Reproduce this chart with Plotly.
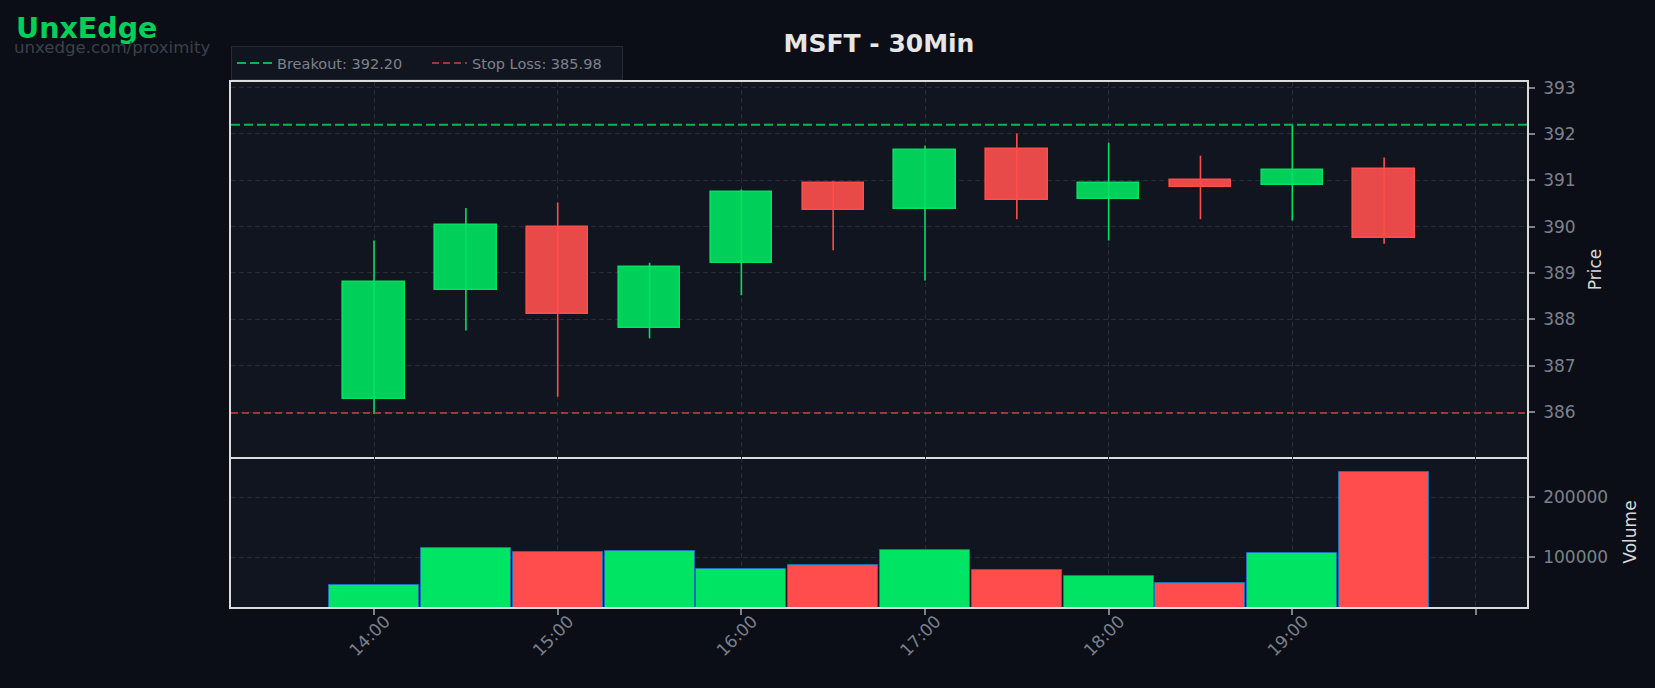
import plotly.graph_objects as go
from plotly.subplots import make_subplots

# ---------------- data ----------------
times = ["14:00", "14:30", "15:00", "15:30", "16:00", "16:30",
         "17:00", "17:30", "18:00", "18:30", "19:00", "19:30"]
opens = [386.28, 388.63, 389.99, 387.81, 389.21, 390.94,
         390.39, 391.68, 390.59, 391.01, 390.89, 391.24]
highs = [389.70, 390.40, 390.52, 389.22, 390.80, 390.98,
         391.75, 392.01, 391.81, 391.53, 392.20, 391.49]
lows = [385.96, 387.76, 386.33, 387.59, 388.52, 389.49,
        388.84, 390.16, 389.70, 390.16, 390.13, 389.63]
closes = [388.80, 390.03, 388.11, 389.13, 390.75, 390.36,
          391.65, 390.57, 390.94, 390.85, 391.22, 389.75]
volumes = [54500, 116200, 109500, 111200, 81200, 87800,
           112800, 79500, 69500, 57200, 107800, 242800]
breakout = 392.20
stop_loss = 385.98
tick_hours = [14, 15, 16, 17, 18, 19, 20]
tick_labels = ["14:00", "15:00", "16:00", "17:00", "18:00", "19:00", ""]
price_ticks = [386, 387, 388, 389, 390, 391, 392, 393]
volume_ticks = [100000, 200000]

# ---------------- style ----------------
PAPER = "#0b0e16"
PLOT = "#111520"
GRID = "#262b37"
FRAME = "#dcdcdc"
TICKC = "#7c818c"
UP_FILL, UP_LINE = "#00d05a", "#00e062"
DN_FILL, DN_LINE = "#e84a4a", "#ff4d4d"
VOL_UP, VOL_DN, VOL_EDGE = "#00e463", "#ff4d4d", "#1f6fb4"
FONT = "DejaVu Sans"

x = [int(t.split(":")[0]) + int(t.split(":")[1]) / 60 for t in times]
up = [c >= o for o, c in zip(opens, closes)]

fig = make_subplots(rows=2, cols=1, shared_xaxes=True, vertical_spacing=0,
                    row_heights=[0.7143, 0.2857])

# wicks
for is_up, col in [(True, UP_LINE), (False, DN_LINE)]:
    wx, wy = [], []
    for xi, h, l, u in zip(x, highs, lows, up):
        if u == is_up:
            wx += [xi, xi, None]
            wy += [l, h, None]
    fig.add_trace(go.Scatter(x=wx, y=wy, mode="lines", line=dict(color=col, width=1.6),
                             showlegend=False, hoverinfo="skip"), row=1, col=1)

# bodies
fig.add_trace(go.Bar(
    x=x,
    y=[abs(c - o) for o, c in zip(opens, closes)],
    base=[min(o, c) for o, c in zip(opens, closes)],
    width=0.334,
    marker=dict(color=[UP_FILL if u else DN_FILL for u in up],
                line=dict(color=[UP_LINE if u else DN_LINE for u in up], width=1.6)),
    showlegend=False, hoverinfo="skip"), row=1, col=1)

# volume
fig.add_trace(go.Bar(
    x=x, y=volumes, width=0.49,
    marker=dict(color=[VOL_UP if u else VOL_DN for u in up],
                line=dict(color=VOL_EDGE, width=1)),
    showlegend=False, hoverinfo="skip"), row=2, col=1)

# level lines (with legend entries)
fig.add_shape(type="line", xref="x domain", x0=0, x1=1, yref="y", y0=breakout, y1=breakout,
              line=dict(color="#00b852", width=2, dash="9px,4px"),
              showlegend=True, name=f"Breakout: {breakout:.2f}")
fig.add_shape(type="line", xref="x domain", x0=0, x1=1, yref="y", y0=stop_loss, y1=stop_loss,
              line=dict(color="#d0403f", width=1.6, dash="7px,4px"),
              showlegend=True, name=f"Stop Loss: {stop_loss:.2f}")

axis_common = dict(showline=True, linecolor=FRAME, linewidth=1.6,
                   showgrid=True, gridcolor=GRID, griddash="5px,3px", gridwidth=1,
                   zeroline=False)

fig.update_xaxes(range=[13.221, 20.278], tickvals=tick_hours, ticktext=tick_labels,
                 **axis_common)
fig.update_xaxes(showticklabels=False, ticks="", mirror=True, row=1, col=1)
fig.update_xaxes(ticks="outside", ticklen=6, tickwidth=1.5, tickcolor=TICKC, mirror=False,
                 tickangle=-45, tickfont=dict(family=FONT, size=17, color=TICKC),
                 ticklabelshift=11, ticklabelstandoff=-10, row=2, col=1)

fig.update_yaxes(side="right", ticks="outside", ticklen=6, tickwidth=1.5, tickcolor=TICKC,
                 tickfont=dict(family=FONT, size=17, color=TICKC), ticklabelstandoff=5,
                 mirror=True, **axis_common)
fig.update_yaxes(range=[385.03, 393.12], tickvals=price_ticks,
                 title=dict(text="Price", font=dict(family=FONT, size=17, color="#d9d9d9"),
                            standoff=14),
                 row=1, col=1)
fig.update_yaxes(range=[17200, 267200], tickvals=volume_ticks, tickformat="d",
                 title=dict(text="Volume", font=dict(family=FONT, size=17, color="#d9d9d9"),
                            standoff=17),
                 row=2, col=1)

fig.add_annotation(text="UnxEdge", xref="paper", yref="paper", x=-0.1675, y=1.101,
                   xanchor="left", yanchor="middle", showarrow=False,
                   font=dict(family=FONT, size=28.5, color="#00d05a", weight="bold"))
fig.add_annotation(text="unxedge.com/proximity", xref="paper", yref="paper", x=-0.169, y=1.066,
                   xanchor="left", yanchor="middle", showarrow=False,
                   font=dict(family=FONT, size=16.6, color="#3c414b"))

fig.update_layout(
    width=1655, height=688,
    margin=dict(l=231, r=128, t=82, b=81),
    paper_bgcolor=PAPER, plot_bgcolor=PLOT,
    barmode="overlay", bargap=0,
    title=dict(text="MSFT - 30Min", x=0.5, xref="paper", xanchor="center",
               y=1 - 43 / 688, yanchor="middle",
               font=dict(family=FONT, size=25, color="#e6e6e6", weight="bold")),
    legend=dict(orientation="h", x=0, xanchor="left", y=1.0038, yanchor="bottom",
                entrywidth=145, itemwidth=35,
                bgcolor=PLOT, bordercolor="#262b38", borderwidth=1,
                font=dict(family=FONT, size=14.5, color="#7d828c")),
    font=dict(family=FONT),
    showlegend=True,
)

fig.write_html("out.html")
